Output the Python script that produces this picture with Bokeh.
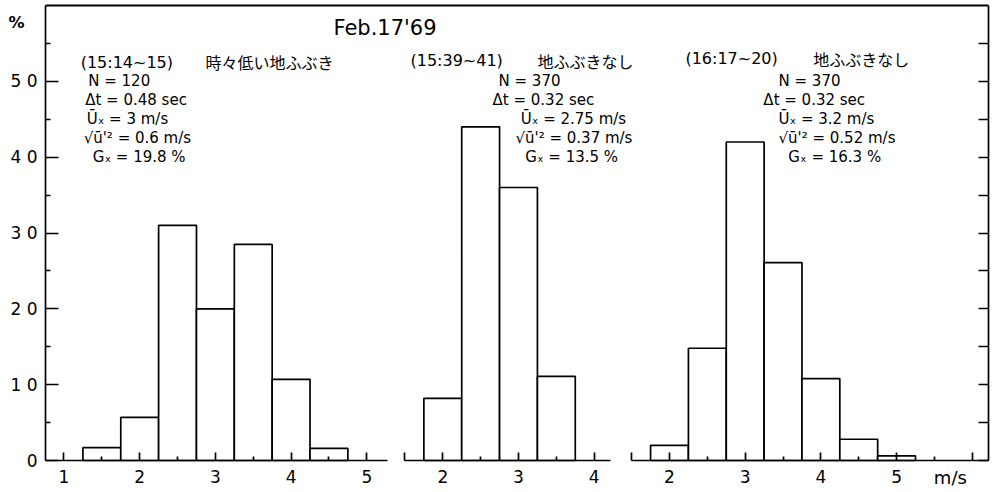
from bokeh.plotting import figure
from bokeh.models import Range1d, LinearAxis, FixedTicker, Label, ColumnDataSource
from bokeh.embed import file_html
from bokeh.resources import INLINE

# ---------------- data ----------------
bin_width = 0.5
bins1_left = [1.25, 1.75, 2.25, 2.75, 3.25, 3.75, 4.25]
pct1 = [1.7, 5.7, 31.0, 20.0, 28.5, 10.7, 1.6]
bins2_left = [1.75, 2.25, 2.75, 3.25]
pct2 = [8.2, 44.0, 36.0, 11.1]
bins3_left = [1.75, 2.25, 2.75, 3.25, 3.75, 4.25, 4.75]
pct3 = [2.0, 14.8, 42.0, 26.1, 10.8, 2.8, 0.6]

date_label = "Feb.17'69"
periods = ["(15:14~15)", "(15:39~41)", "(16:17~20)"]
remarks = ["時々低い地ふぶき", "地ふぶきなし", "地ふぶきなし"]
n_samples = ["120", "370", "370"]
dt_sec = ["0.48", "0.32", "0.32"]
u_mean = ["3", "2.75", "3.2"]
u_rms = ["0.6", "0.37", "0.52"]
gust = ["19.8", "13.5", "16.3"]

y_ticks = [0, 10, 20, 30, 40, 50]
y_minor = [5, 15, 25, 35, 45, 55]
y_labels = {0: "0", 10: "1 0", 20: "2 0", 30: "3 0", 40: "4 0", 50: "5 0"}
y_max = 60

# ---------------- layout ----------------
W, H = 997, 492
X_SCALE = 75.7          # pixels per m/s, same in all panels
Y_SCALE = 7.583         # pixels per percent
SPAN = W / X_SCALE
# x value at the left canvas edge for each panel's own scale
starts = [0.1612, -3.8428, -6.8375]
names = ["default", "p2", "p3"]
frame_left = starts[0] + 45 / X_SCALE      # left axis position (panel-1 units)
frame_right = starts[0] + 988 / X_SCALE    # right axis position (panel-1 units)
bounds = [(frame_left, 5.27), (1.5, 4.22), (1.5, starts[2] + 988 / X_SCALE)]
major = [[1, 2, 3, 4, 5], [1.5, 2, 3, 4], [1.5, 2, 3, 4, 5, 6]]
minor = [[1.5, 2.5, 3.5, 4.5], [2.5, 3.5], [2.5, 3.5, 4.5, 5.5]]
blank = [{}, {1.5: ""}, {1.5: "", 6: ""}]
y_bottom = -(H - 460) / Y_SCALE
y_top = 460 / Y_SCALE

LW = 1.7
NUM_FONT = "DejaVu Sans"
JP_FONT = "Noto Sans CJK JP"

p = figure(width=W, height=H, output_backend="svg", toolbar_location=None,
           x_range=Range1d(starts[0], starts[0] + SPAN), y_range=Range1d(y_bottom, y_top),
           x_axis_location=None, y_axis_location=None,
           min_border_left=0, min_border_right=0, min_border_top=0, min_border_bottom=0)
p.extra_x_ranges = {names[1]: Range1d(starts[1], starts[1] + SPAN),
                    names[2]: Range1d(starts[2], starts[2] + SPAN)}
for g in p.grid:
    g.visible = False
p.outline_line_color = None
p.background_fill_color = "white"
p.border_fill_color = "white"

# left axis
yaxis = LinearAxis(ticker=FixedTicker(ticks=y_ticks, minor_ticks=y_minor),
                   fixed_location=frame_left, bounds=(0, y_max),
                   major_tick_in=13, major_tick_out=0, minor_tick_in=5, minor_tick_out=0,
                   major_label_overrides=y_labels, major_label_standoff=8,
                   major_label_text_font=NUM_FONT, major_label_text_font_size="17px",
                   major_label_text_color="black",
                   axis_line_width=LW, major_tick_line_width=LW, minor_tick_line_width=LW)
p.add_layout(yaxis, "left")

# right axis (ticks only)
raxis = LinearAxis(ticker=FixedTicker(ticks=y_ticks + y_minor, minor_ticks=[]),
                   fixed_location=frame_right, bounds=(0, y_max),
                   major_tick_in=10, major_tick_out=0, minor_tick_in=0, minor_tick_out=0,
                   major_label_overrides={t: "" for t in y_ticks + y_minor},
                   axis_line_width=LW, major_tick_line_width=LW)
p.add_layout(raxis, "right")

# top frame line, drawn as a one-row quad outline edge
top_src = ColumnDataSource(dict(x0=[frame_left], x1=[frame_right], y0=[y_max], y1=[y_max]))
p.segment(x0="x0", y0="y0", x1="x1", y1="y1", source=top_src,
          line_color="black", line_width=2, level="overlay")

# bottom axes, one per panel
for i in range(3):
    ax = LinearAxis(x_range_name=names[i], bounds=bounds[i], fixed_location=0,
                    ticker=FixedTicker(ticks=major[i], minor_ticks=minor[i]),
                    major_tick_in=8, major_tick_out=0, minor_tick_in=4, minor_tick_out=0,
                    major_label_overrides=blank[i], major_label_standoff=9,
                    major_label_text_font=NUM_FONT, major_label_text_font_size="17px",
                    major_label_text_color="black",
                    axis_line_width=LW, major_tick_line_width=LW, minor_tick_line_width=LW)
    p.add_layout(ax, "below")

# bars
for i, (lefts, vals) in enumerate([(bins1_left, pct1), (bins2_left, pct2), (bins3_left, pct3)]):
    src = ColumnDataSource(dict(left=lefts, right=[l + bin_width for l in lefts], top=vals,
                                bottom=[0] * len(vals)))
    p.quad(left="left", right="right", top="top", bottom="bottom", source=src,
           x_range_name=names[i], fill_color="white", line_color="black", line_width=LW)

# texts
def lab(txt, x, y, rng, font=NUM_FONT, size="15px", align="left", style="normal"):
    p.add_layout(Label(x=x, y=y, x_range_name=rng, text=txt, text_font=font,
                       text_font_size=size, text_align=align, text_baseline="middle",
                       text_color="black", text_font_style=style))

lab("%", 0.373, 57.8, names[0], size="16px", align="center", style="bold")
lab(date_label, 4.56, 57.1, names[0], size="21px")
lab("m/s", 5.71, -2.2, names[2], size="18px", align="center")

head_x = [1.22, 1.573, 2.21]
remark_x = [2.87, 3.25, 3.90]
head_y = [52.5, 52.7, 53.0]
line_x = [[1.32, 1.28, 1.30, 1.26, 1.38],
          [2.736, 2.657, 3.03, 2.96, 3.09],
          [3.44, 3.24, 3.44, 3.44, 3.57]]
line_y = [50.0, 47.5, 45.0, 42.5, 40.0]

for i in range(3):
    lab(periods[i], head_x[i], head_y[i], names[i], size="16px")
    lab(remarks[i], remark_x[i], head_y[i], names[i], font=JP_FONT, size="16px")
    lines = ["N = " + n_samples[i],
             "Δt = " + dt_sec[i] + " sec",
             "Ūₓ = " + u_mean[i] + " m/s",
             "√ū'² = " + u_rms[i] + " m/s",
             "Gₓ = " + gust[i] + " %"]
    for j, t in enumerate(lines):
        lab(t, line_x[i][j], line_y[j], names[i])

open("out.html", "w").write(file_html(p, INLINE))
